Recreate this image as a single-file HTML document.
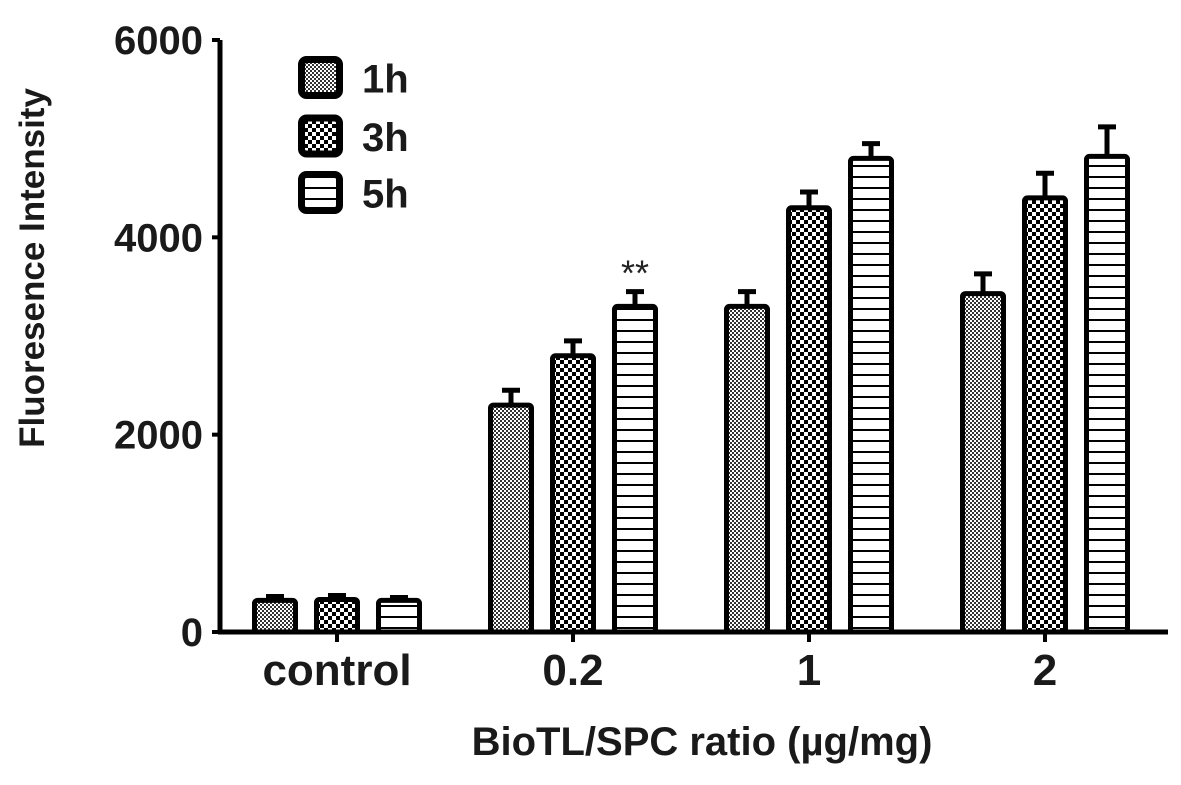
<!DOCTYPE html>
<html><head><meta charset="utf-8">
<style>
html,body{margin:0;padding:0;background:#fff;}
svg{display:block;font-family:"Liberation Sans",Arial,sans-serif;}
</style></head>
<body>
<svg id="chart" width="1181" height="785" viewBox="0 0 1181 785" xmlns="http://www.w3.org/2000/svg">
<defs>
<pattern id="p1h" width="4" height="4" patternUnits="userSpaceOnUse">
<rect width="4" height="4" fill="#fff"/><rect width="2" height="2" fill="#333"/><rect x="2" y="2" width="2" height="2" fill="#333"/>
</pattern>
<pattern id="p3h" width="8" height="8" patternUnits="userSpaceOnUse">
<rect width="8" height="8" fill="#fff"/><rect width="4" height="4" fill="#000"/><rect x="4" y="4" width="4" height="4" fill="#000"/>
</pattern>
<pattern id="p5h" width="10" height="11" patternUnits="userSpaceOnUse">
<rect width="10" height="11" fill="#fff"/><rect y="0" width="10" height="2" fill="#000"/>
</pattern>
</defs>
<g id="plot"></g>
</svg>
<script>
const categories = ["control", "0.2", "1", "2"];
const series = ["1h", "3h", "5h"];
const values1h = [320, 2300, 3300, 3430];
const values3h = [330, 2800, 4300, 4400];
const values5h = [320, 3300, 4800, 4820];
const err1h = [40, 150, 150, 200];
const err3h = [40, 150, 160, 250];
const err5h = [30, 150, 150, 300];
const yTicks = [0, 2000, 4000, 6000];
const annotations = [{cat: 1, ser: 2, text: "**"}];

const NS = "http://www.w3.org/2000/svg";
const g = document.getElementById("plot");
const X0 = 220, X1 = 1168, Y0 = 632, Y6 = 40;
const yMax = 6000;
function y(v){ return Y0 - (v / yMax) * (Y0 - Y6); }
const groupStart = 337, groupStep = 236, barStep = 62, barW = 46;
function groupX(i){ return groupStart + i * groupStep; }
function barX(i, s){ return groupX(i) + (s - 1) * barStep; }
function mk(tag, attrs){ const e = document.createElementNS(NS, tag); for (const k in attrs) e.setAttribute(k, attrs[k]); g.appendChild(e); return e; }

const vals = [values1h, values3h, values5h];
const errs = [err1h, err3h, err5h];
const fills = ["url(#p1h)", "url(#p3h)", "url(#p5h)"];

for (let i = 0; i < categories.length; i++) {
  for (let s = 0; s < series.length; s++) {
    const cx = barX(i, s), top = y(vals[s][i]), et = y(vals[s][i] + errs[s][i]);
    const eb = mk("path", {d: `M${cx} ${top} V${et} M${cx-9} ${et} H${cx+9}`, stroke: "#000", "stroke-width": 5, fill: "none"});
    
    
    const r = mk("rect", {x: cx - barW/2 + 2.5, y: top, width: barW - 5, height: Y0 - top, rx: 3, fill: fills[s], stroke: "#000", "stroke-width": 5});
    
    
  }
}
annotations.forEach(a => {
  const t = mk("text", {x: barX(a.cat, a.ser), y: y(vals[a.ser][a.cat] + errs[a.ser][a.cat]) - 6, "text-anchor": "middle", "font-size": 36, fill: "#222"});
  t.textContent = a.text;
  
  
});
const ya = mk("path", {d: `M${X0} ${Y6} V${Y0+2}`, stroke: "#000", "stroke-width": 5, fill: "none"});


const xa = mk("path", {d: `M${X0-2} ${Y0} H${X1}`, stroke: "#000", "stroke-width": 5, fill: "none"});


yTicks.forEach(v => {
  const tk = mk("path", {d: `M${X0-8} ${y(v)} H${X0}`, stroke: "#000", "stroke-width": 4});
  
  
  const t = mk("text", {x: 203, y: y(v) + 14, "text-anchor": "end", "font-size": 40, "font-weight": "bold", fill: "#1a1a1a"});
  t.textContent = v;
  
  
});
categories.forEach((c, i) => {
  const tk = mk("path", {d: `M${groupX(i)} ${Y0} V${Y0+10}`, stroke: "#000", "stroke-width": 4});
  
  
  const t = mk("text", {x: groupX(i), y: 685, "text-anchor": "middle", "font-size": 44, "font-weight": "bold", fill: "#1a1a1a"});
  t.textContent = c;
  
  
});
const xt = mk("text", {x: 702, y: 755, "text-anchor": "middle", "font-size": 40, "font-weight": "bold", fill: "#1a1a1a"});
xt.textContent = "BioTL/SPC ratio (µg/mg)";


const yt = mk("text", {x: 0, y: 0, "text-anchor": "middle", "font-size": 35, "font-weight": "bold", fill: "#1a1a1a", transform: "translate(44 268) rotate(-90)"});
yt.textContent = "Fluoresence Intensity";


const legY = [77.5, 136, 192.5];
series.forEach((s, k) => {
  const r = mk("rect", {x: 301.5, y: legY[k] - 18, width: 38, height: 36, rx: 5, fill: fills[k], stroke: "#000", "stroke-width": 7});
  
  
  const t = mk("text", {x: 362, y: legY[k] + 15, "font-size": 40, "font-weight": "bold", fill: "#1a1a1a"});
  t.textContent = s;
  
  
});
</script>
</body></html>
